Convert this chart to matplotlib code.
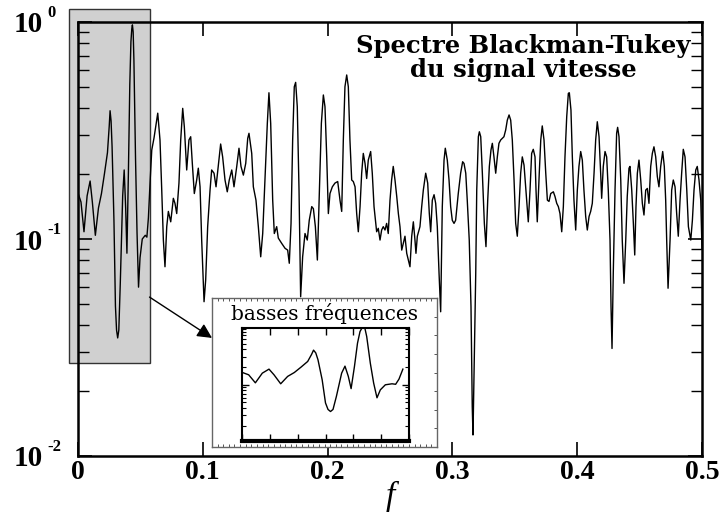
import matplotlib
matplotlib.use("Agg")
import matplotlib.pyplot as plt
from matplotlib.patches import Rectangle
import numpy as np

plt.rcParams['font.family'] = ['Liberation Serif', 'DejaVu Serif']

# ---------------- data ----------------
freq = [
    0.0000, 0.0024, 0.0048, 0.0073, 0.0097, 0.0115, 0.0139, 0.0164, 0.0188, 0.0212,
    0.0236, 0.0250, 0.0257, 0.0265, 0.0273, 0.0288, 0.0300, 0.0309, 0.0318, 0.0327,
    0.0339, 0.0358, 0.0370, 0.0382, 0.0392, 0.0404, 0.0415, 0.0424, 0.0431, 0.0436,
    0.0442, 0.0448, 0.0461, 0.0473, 0.0485, 0.0497, 0.0515, 0.0539, 0.0552, 0.0564,
    0.0578,
    0.0591, 0.0609, 0.0639, 0.0657, 0.0671, 0.0684, 0.0697, 0.0711, 0.0724, 0.0743,
    0.0764, 0.0777, 0.0791, 0.0809, 0.0823, 0.0839, 0.0852, 0.0871, 0.0889, 0.0903,
    0.0916, 0.0932, 0.0951, 0.0964, 0.0978, 0.0991, 0.1010, 0.1023, 0.1039, 0.1058,
    0.1071, 0.1090, 0.1106, 0.1124, 0.1143, 0.1159, 0.1178, 0.1196, 0.1212, 0.1232,
    0.1250, 0.1272, 0.1290, 0.1306, 0.1325, 0.1344, 0.1360, 0.1370, 0.1392, 0.1405,
    0.1426, 0.1445, 0.1464, 0.1480, 0.1498, 0.1517, 0.1530, 0.1544, 0.1560, 0.1573,
    0.1592, 0.1605, 0.1632, 0.1659, 0.1680, 0.1693, 0.1707, 0.1720, 0.1733, 0.1744,
    0.1757, 0.1771, 0.1784, 0.1800, 0.1819, 0.1837, 0.1853, 0.1873, 0.1886, 0.1902,
    0.1918, 0.1934, 0.1950, 0.1966, 0.1979, 0.1993, 0.2006, 0.2019, 0.2038, 0.2059,
    0.2081, 0.2100, 0.2113, 0.2126, 0.2139, 0.2153, 0.2166, 0.2179, 0.2193, 0.2206,
    0.2220, 0.2233, 0.2246, 0.2260, 0.2273, 0.2286, 0.2300, 0.2313, 0.2326, 0.2345,
    0.2358, 0.2372, 0.2393, 0.2406, 0.2420, 0.2433, 0.2446, 0.2460, 0.2473, 0.2486,
    0.2500, 0.2513, 0.2526, 0.2540, 0.2554, 0.2567, 0.2580, 0.2594, 0.2607, 0.2620,
    0.2634, 0.2647, 0.2660, 0.2674, 0.2687, 0.2700, 0.2708, 0.2719, 0.2740, 0.2754,
    0.2767, 0.2786, 0.2802, 0.2815, 0.2826, 0.2839, 0.2853, 0.2866, 0.2879, 0.2893,
    0.2906, 0.2919, 0.2933, 0.2943, 0.2959, 0.2973, 0.2986, 0.2999, 0.3013, 0.3026,
    0.3047, 0.3066, 0.3082, 0.3093, 0.3107, 0.3119, 0.3135, 0.3149, 0.3159, 0.3165,
    0.3176, 0.3187, 0.3195, 0.3208, 0.3216, 0.3227, 0.3240, 0.3256, 0.3269, 0.3283,
    0.3296, 0.3309, 0.3320, 0.3333, 0.3347, 0.3360, 0.3373, 0.3387, 0.3400, 0.3413,
    0.3427, 0.3440, 0.3454, 0.3467, 0.3480, 0.3494, 0.3507, 0.3520, 0.3534, 0.3547,
    0.3560, 0.3574, 0.3595, 0.3608, 0.3622, 0.3635, 0.3648, 0.3662, 0.3670, 0.3680,
    0.3696, 0.3708, 0.3720, 0.3734, 0.3748, 0.3761, 0.3774, 0.3788, 0.3809, 0.3822,
    0.3836, 0.3849, 0.3862, 0.3876, 0.3889, 0.3902, 0.3916, 0.3929, 0.3937, 0.3950,
    0.3961, 0.3974, 0.3988, 0.4001, 0.4014, 0.4028, 0.4041, 0.4054, 0.4068, 0.4081,
    0.4095, 0.4108, 0.4121, 0.4135, 0.4148, 0.4161, 0.4175, 0.4188, 0.4196, 0.4209,
    0.4223, 0.4236, 0.4249, 0.4263, 0.4271, 0.4279, 0.4289, 0.4303, 0.4316, 0.4324,
    0.4335, 0.4349, 0.4361, 0.4375, 0.4389, 0.4401, 0.4415, 0.4423, 0.4437, 0.4450,
    0.4461, 0.4471, 0.4482, 0.4495, 0.4509, 0.4522, 0.4535, 0.4549, 0.4562, 0.4575,
    0.4589, 0.4602, 0.4615, 0.4629, 0.4642, 0.4655, 0.4669, 0.4685, 0.4698, 0.4709,
    0.4717, 0.4728, 0.4744, 0.4757, 0.4770, 0.4784, 0.4797, 0.4810, 0.4824, 0.4837,
    0.4850, 0.4864, 0.4878, 0.4891, 0.4910, 0.4923, 0.4936, 0.4950, 0.4962, 0.4976,
    0.4990, 0.5000,
]
spectrum = [
    0.163, 0.148, 0.108, 0.158, 0.185, 0.148, 0.104, 0.139, 0.162, 0.200,
    0.250, 0.330, 0.390, 0.350, 0.267, 0.122, 0.049, 0.038, 0.035, 0.038,
    0.063, 0.158, 0.208, 0.139, 0.086, 0.205, 0.513, 0.810, 0.930, 0.970,
    0.900, 0.667, 0.234, 0.107, 0.060, 0.082, 0.100, 0.104, 0.102, 0.125,
    0.185,
    0.257, 0.292, 0.380, 0.286, 0.168, 0.0989, 0.0745, 0.114, 0.134, 0.120,
    0.154, 0.146, 0.131, 0.181, 0.286, 0.400, 0.329, 0.208, 0.286, 0.296,
    0.223, 0.162, 0.187, 0.212, 0.174, 0.0990, 0.0514, 0.0647, 0.114, 0.168,
    0.208, 0.201, 0.174, 0.216, 0.274, 0.239, 0.187, 0.165, 0.187, 0.208,
    0.174, 0.216, 0.262, 0.216, 0.197, 0.223, 0.291, 0.307, 0.248, 0.174,
    0.151, 0.114, 0.0828, 0.106, 0.187, 0.341, 0.472, 0.341, 0.151, 0.106,
    0.114, 0.101, 0.0955, 0.0906, 0.0889, 0.0773, 0.118, 0.286, 0.503, 0.527,
    0.407, 0.168, 0.0542, 0.0828, 0.106, 0.0989, 0.122, 0.141, 0.138, 0.114,
    0.0800, 0.168, 0.341, 0.461, 0.407, 0.239, 0.131, 0.162, 0.174, 0.181,
    0.184, 0.150, 0.134, 0.286, 0.503, 0.570, 0.503, 0.286, 0.187, 0.184,
    0.174, 0.131, 0.108, 0.141, 0.201, 0.248, 0.223, 0.190, 0.231, 0.253,
    0.201, 0.141, 0.108, 0.112, 0.0989, 0.110, 0.114, 0.110, 0.118, 0.106,
    0.151, 0.187, 0.216, 0.187, 0.157, 0.131, 0.114, 0.0889, 0.0955, 0.103,
    0.0859, 0.0800, 0.0745, 0.103, 0.120, 0.0989, 0.0859, 0.103, 0.114, 0.141,
    0.168, 0.201, 0.181, 0.131, 0.108, 0.151, 0.160, 0.146, 0.114, 0.0695,
    0.0462, 0.141, 0.231, 0.262, 0.231, 0.187, 0.141, 0.122, 0.118, 0.122,
    0.162, 0.201, 0.227, 0.223, 0.201, 0.151, 0.0989, 0.0488, 0.0169, 0.0125,
    0.0287, 0.0695, 0.168, 0.296, 0.312, 0.296, 0.201, 0.118, 0.0922, 0.151,
    0.216, 0.257, 0.276, 0.239, 0.201, 0.239, 0.276, 0.286, 0.291, 0.296,
    0.318, 0.353, 0.373, 0.353, 0.286, 0.187, 0.118, 0.103, 0.141, 0.201,
    0.239, 0.219, 0.151, 0.120, 0.168, 0.248, 0.259, 0.239, 0.168, 0.120,
    0.201, 0.286, 0.332, 0.286, 0.201, 0.151, 0.149, 0.162, 0.165, 0.157,
    0.146, 0.141, 0.131, 0.108, 0.141, 0.239, 0.366, 0.469, 0.472, 0.393,
    0.239, 0.151, 0.110, 0.168, 0.216, 0.253, 0.231, 0.168, 0.127, 0.110,
    0.127, 0.134, 0.146, 0.201, 0.286, 0.347, 0.296, 0.201, 0.154, 0.216,
    0.253, 0.239, 0.168, 0.0989, 0.0488, 0.0313, 0.0695, 0.168, 0.307, 0.327,
    0.296, 0.187, 0.0989, 0.0625, 0.0989, 0.157, 0.212, 0.216, 0.168, 0.118,
    0.0844, 0.141, 0.201, 0.231, 0.187, 0.146, 0.129, 0.168, 0.171, 0.146,
    0.216, 0.248, 0.266, 0.239, 0.194, 0.174, 0.216, 0.253, 0.216, 0.151,
    0.0989, 0.0593, 0.0989, 0.168, 0.187, 0.174, 0.131, 0.103, 0.151, 0.201,
    0.259, 0.239, 0.168, 0.114, 0.0989, 0.122, 0.168, 0.208, 0.216, 0.187,
    0.151, 0.090,
]
x_ticks = [0, 0.1, 0.2, 0.3, 0.4, 0.5]
x_tick_labels = ['0', '0.1', '0.2', '0.3', '0.4', '0.5']
y_ticks = [0.01, 0.1, 1.0]
y_tick_base = ['10', '10', '10']
y_tick_exp = ['-2', '-1', '0']
title_text = 'Spectre Blackman-Tukey\ndu signal vitesse'
inset_title = 'basses fréquences'
zoom_f = (0.0, 0.06)
inset_ylim = (0.011, 0.93)

freq = np.array(freq)
spectrum = np.array(spectrum)

W, H = 724, 515
fig = plt.figure(figsize=(W / 100, H / 100), dpi=100)
fig.patch.set_facecolor('white')
PT = 72 / 100  # points per pixel


def fr(x0, y0, x1, y1):
    return [x0 / W, 1 - y1 / H, (x1 - x0) / W, (y1 - y0) / H]


ax = fig.add_axes(fr(78, 22, 702, 456))
ax.set_yscale('log')
ax.set_xlim(0, 0.5)
ax.set_ylim(0.01, 1.0)

# shaded zoom region
ax.add_patch(Rectangle((-0.0072, 0.0268), 0.0645, 1.148 - 0.0268,
                       facecolor='#d0d0d0', edgecolor='#333333', lw=1.0,
                       clip_on=False, zorder=1))

ax.plot(freq, spectrum, color='black', lw=1.0, zorder=3)

for s in ax.spines.values():
    s.set_linewidth(1.8)
    s.set_zorder(4)

ax.set_xticks(x_ticks)
ax.set_xticklabels(x_tick_labels, fontsize=20, fontweight='bold')
ax.set_yticks(y_ticks)
ax.set_yticklabels(y_tick_base, fontsize=21, fontweight='bold')
ax.tick_params(axis='x', which='major', direction='in', length=10, width=1.2,
               top=True, bottom=True, pad=3)
ax.tick_params(axis='y', which='major', direction='in', length=10, width=1.2,
               left=True, right=True, pad=35 * PT)
ax.tick_params(axis='y', which='minor', direction='in', length=8, width=1.0,
               left=True, right=True)
ax.tick_params(axis='x', which='minor', bottom=False, top=False)
for yv, ex in zip(y_ticks, y_tick_exp):
    ax.annotate(ex, xy=(0, yv), xycoords=ax.get_yaxis_transform(),
                xytext=(-31 * PT, 9 * PT), textcoords='offset points',
                ha='left', va='center', fontsize=12, fontweight='bold',
                annotation_clip=False)

ax.set_xlabel('f', fontsize=24, fontstyle='italic')
ax.xaxis.set_label_coords(0.5, -0.094)
ax.xaxis.label.set_va('center')

fig.text(523 / W, 1 - 58 / H, title_text, ha='center', va='center',
         multialignment='center', fontsize=17.5, fontweight='bold',
         family='DejaVu Serif', linespacing=1.05)

# arrow from zoom box to inset
ax.annotate('', xy=(0.1074, 0.035), xytext=(0.0573, 0.054),
            arrowprops=dict(arrowstyle='-|>', color='black', lw=1.0,
                            mutation_scale=22, shrinkA=0, shrinkB=0),
            zorder=5)

# inset frame
axo = fig.add_axes(fr(212, 298, 437, 447))
axo.set_facecolor('white')
axo.set_xlim(0, 1)
axo.set_ylim(0, 1)
axo.set_xticks(np.linspace(0, 1, 41))
axo.set_yticks(np.linspace(0, 1, 9))
axo.set_xticklabels([])
axo.set_yticklabels([])
axo.tick_params(direction='in', length=2.5, width=0.7, color='#555555',
                top=True, bottom=True, left=False, right=True)
for s in axo.spines.values():
    s.set_color('#666666')
    s.set_linewidth(1.0)
axo.text(0.5, 0.895, inset_title, transform=axo.transAxes, ha='center',
         va='center', fontsize=14.5, family='DejaVu Serif')

axi = fig.add_axes(fr(242, 328, 409, 441))
axi.set_yscale('log')
axi.set_xlim(*zoom_f)
axi.set_ylim(*inset_ylim)
m = freq <= 0.0585
axi.plot(freq[m], spectrum[m], color='black', lw=1.0)
axi.set_xticks(np.arange(0, 0.0601, 0.01))
axi.set_xticklabels([])
axi.set_yticklabels([], minor=True)
axi.set_yticklabels([])
axi.tick_params(axis='both', which='major', direction='in', length=5, width=1.0,
                top=True, bottom=True, left=True, right=True)
axi.tick_params(axis='y', which='minor', direction='in', length=3, width=0.8,
                left=True, right=True)
for s in axi.spines.values():
    s.set_linewidth(1.5)
axi.spines['bottom'].set_linewidth(3)

fig.savefig('out.png', dpi=100, facecolor='white')
